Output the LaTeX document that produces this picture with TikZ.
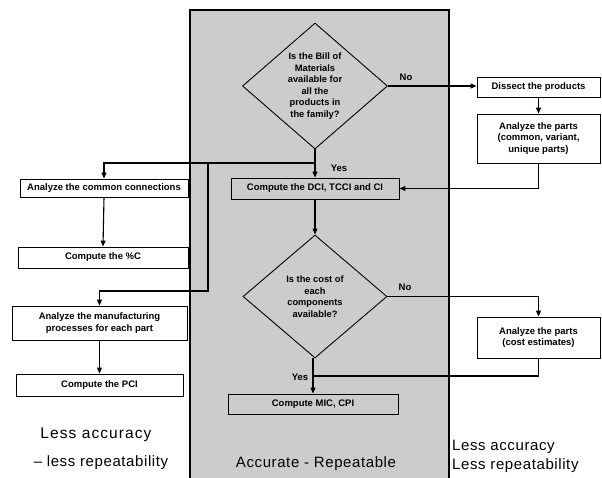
\documentclass[tikz,border=0pt]{standalone}
\usepackage{fontspec}
\setmainfont{Liberation Sans}
\usetikzlibrary{shapes.geometric,arrows.meta}
\begin{document}
\begin{tikzpicture}[x=1pt,y=-1pt,
  box/.style={draw, line width=0.9pt, inner sep=1pt, align=center,
    font=\fontsize{9.5}{11.5}\selectfont\bfseries},
  dec/.style={draw, line width=0.9pt, shape=diamond, inner sep=0pt},
  dtext/.style={align=center, font=\fontsize{9.3}{11.6}\selectfont\bfseries},
  lab/.style={font=\fontsize{9.5}{10}\selectfont\bfseries, inner sep=0pt},
  big/.style={inner sep=0pt, font=\fontsize{15}{18}\selectfont\addfontfeature{LetterSpace=4}},
  conn/.style={line width=1.1pt},
  arr/.style={conn, -{Triangle[length=6pt,width=5pt]}}]
\useasboundingbox (0,0) rectangle (602,477);
% accurate band
\node[draw, line width=1.3pt, fill=black!20, minimum width=259pt, minimum height=470pt, inner sep=0pt] (band) at (319.5,245) {};

% central column
\node[dec, minimum width=145pt, minimum height=126pt,
  label={[dtext]center:Is the Bill of\\Materials\\available for\\all the\\products in\\the family?}] (d1) at (315,86) {};
\node[box, minimum width=168pt, minimum height=21pt] (c1) at (315,188.5) {Compute the DCI, TCCI and CI};
\node[dec, minimum width=144pt, minimum height=123pt,
  label={[dtext]center:Is the cost of\\each\\components\\available?}] (d2) at (315,296.5) {};
\node[box, minimum width=170pt, minimum height=20pt] (mc) at (313,404) {Compute MIC, CPI};

% right column
\node[box, minimum width=123pt, minimum height=20pt] (ds) at (538.5,87) {Dissect the products};
\node[box, minimum width=123pt, minimum height=49pt] (ap) at (538.5,138.5) {Analyze the parts\\(common, variant,\\unique parts)};
\node[box, minimum width=123pt, minimum height=41pt] (ce) at (538.5,337.5) {Analyze the parts\\(cost estimates)};

% left column
\node[box, minimum width=168pt, minimum height=18pt] (ac) at (104,188) {Analyze the common connections};
\node[box, minimum width=170pt, minimum height=21pt] (pc) at (103,257.5) {Compute the \%C};
\node[box, minimum width=175pt, minimum height=34pt] (am) at (99.5,323) {Analyze the manufacturing\\processes for each part};
\node[box, minimum width=167pt, minimum height=22pt] (pci) at (99.5,385) {Compute the PCI};

% labels
\node[lab] (no1) at (406,77) {No};
\node[lab] (yes1) at (339,168) {Yes};
\node[lab] (no2) at (405,287) {No};
\node[lab] (yes2) at (300,377) {Yes};

\node[big, align=center, font=\fontsize{15.5}{18}\selectfont\addfontfeature{LetterSpace=7}] (lt1) at (96,435) {Less accuracy};
\node[big, align=center] (lt2) at (101,463) {-- less repeatability};
\node[big, anchor=west] (rt1) at (452,447) {Less accuracy};
\node[big, anchor=west] (rt2) at (452,466) {Less repeatability};
\node[big] (ct) at (316,464) {Accurate - Repeatable};

% junctions
\coordinate (j1) at (315,163);
\coordinate (j2) at (208,163);
\coordinate (j3) at (208,291);
\coordinate (j4) at (313,376);

% connectors
\draw[arr] (d1.south) -- (c1.north);
\draw[arr] (d1.east) -- (d1.east -| ds.west);
\draw[arr] (ds.south) -- (ap.north);
\draw[arr] (ap.south) |- (c1.east);
\draw[arr] (j1) -| (ac.north);
\draw[arr] (ac.south) -- (pc.north);
\draw[arr] (j2) -- (j3) -| (am.north);
\draw[arr] (am.south) -- (pci.north);
\draw[arr] (c1.south) -- (d2.north);
\draw[arr] (d2.east) -| (ce.north);
\draw[conn] (ce.south) |- (j4);
\draw[arr] (d2.south -| mc.north) -- (mc.north);
\end{tikzpicture}
\end{document}
